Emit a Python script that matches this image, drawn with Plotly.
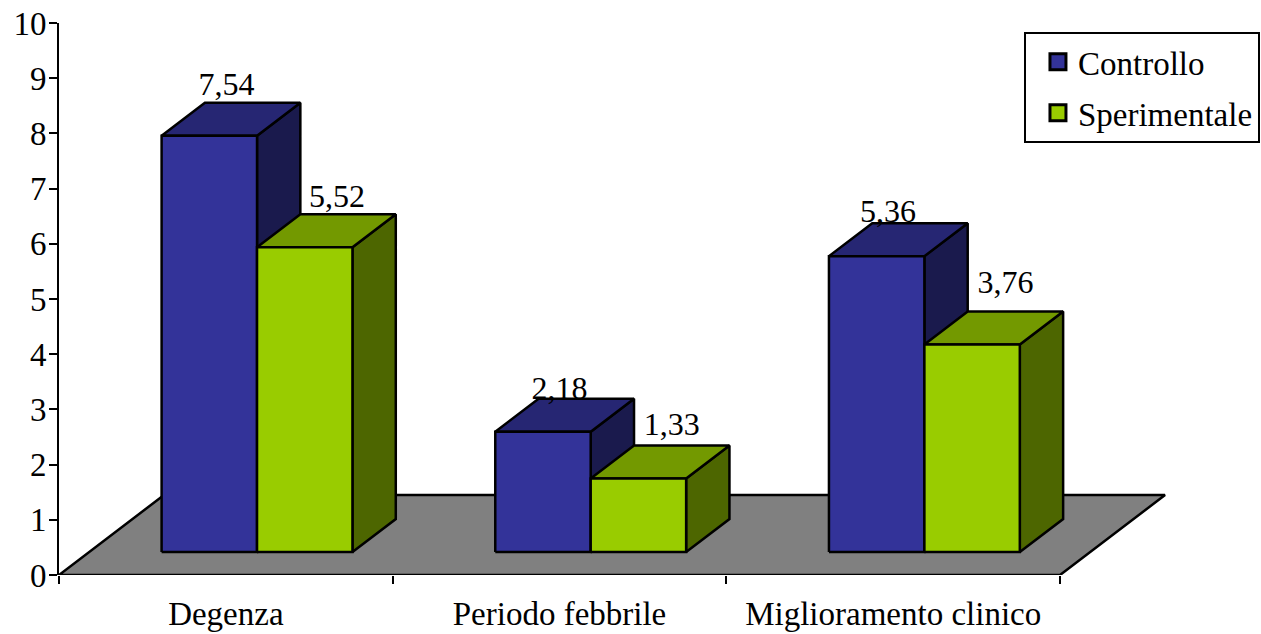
import plotly.graph_objects as go

CATEGORIES = ["Degenza", "Periodo febbrile", "Miglioramento clinico"]
CONTROLLO = [7.54, 2.18, 5.36]
SPERIMENTALE = [5.52, 1.33, 3.76]
Y_TICKS = list(range(0, 11))

# label nudges from the back-top centre of each bar, in axis units
LABEL_DX = {"Controllo": [-0.078, -0.08, -0.096], "Sperimentale": [-0.033, -0.03, -0.03]}
LABEL_DY = {"Controllo": [0.285, 0.145, 0.165], "Sperimentale": [0.27, 0.33, 0.48]}

COL = {
    "Controllo": dict(front="#333399", top="#262673", side="#1A1A4D"),
    "Sperimentale": dict(front="#99CC00", top="#739900", side="#4D6600"),
}
FONT = "Liberation Serif"
FS = 33
FS_LABEL = 32
LW = 2.5

# oblique projection
FLOOR_DX = 0.3147   # category units for full floor depth
FLOOR_DY = 1.449    # value units for full floor depth
D_FRONT = 0.2875
D_BACK = 0.70
BAR_W = 0.286
X_NUDGE = 0.003


def P(x, y, d):
    return x + FLOOR_DX * d, y + FLOOR_DY * d


def poly(pts, color, name=None):
    xs = [p[0] for p in pts] + [pts[0][0]]
    ys = [p[1] for p in pts] + [pts[0][1]]
    return go.Scatter(
        x=xs, y=ys, mode="lines", fill="toself", fillcolor=color,
        line=dict(color="black", width=LW), showlegend=False,
        hoverinfo="skip", cliponaxis=False, name=name,
    )


fig = go.Figure()
n = len(CATEGORIES)

fig.add_trace(poly([P(0, 0, 0), P(n, 0, 0), P(n, 0, 1), P(0, 0, 1)], "#808080", "Pavimento"))

label_x, label_y, label_t = [], [], []
for name, vals, off in (("Controllo", CONTROLLO, -1), ("Sperimentale", SPERIMENTALE, 0)):
    c = COL[name]
    for i, v in enumerate(vals):
        x0 = i + 0.5 + X_NUDGE + off * BAR_W
        x1 = x0 + BAR_W
        fig.add_trace(poly([P(x1, 0, D_FRONT), P(x1, 0, D_BACK), P(x1, v, D_BACK), P(x1, v, D_FRONT)], c["side"]))
        fig.add_trace(poly([P(x0, v, D_FRONT), P(x1, v, D_FRONT), P(x1, v, D_BACK), P(x0, v, D_BACK)], c["top"]))
        fig.add_trace(poly([P(x0, 0, D_FRONT), P(x1, 0, D_FRONT), P(x1, v, D_FRONT), P(x0, v, D_FRONT)], c["front"]))
        bx, by = P((x0 + x1) / 2, v, D_BACK)
        label_x.append(bx + LABEL_DX[name][i])
        label_y.append(by + LABEL_DY[name][i])
        label_t.append(f"{v:.2f}".replace(".", ","))

fig.add_trace(go.Scatter(
    x=label_x, y=label_y, text=label_t, mode="text", textposition="middle center",
    textfont=dict(family=FONT, size=FS_LABEL, color="black"),
    showlegend=False, hoverinfo="skip", cliponaxis=False,
))

for name in ("Controllo", "Sperimentale"):
    fig.add_trace(go.Scatter(
        x=[None], y=[None], mode="markers", name=name, legendgroup=name,
        marker=dict(symbol="square", size=16, color=COL[name]["front"],
                    line=dict(color="black", width=3)),
    ))

fig.update_layout(
    width=1261, height=634,
    margin=dict(l=59, r=0, t=23, b=59, autoexpand=False),
    paper_bgcolor="white", plot_bgcolor="white",
    font=dict(family=FONT, size=FS, color="black"),
    showlegend=True,
    legend=dict(
        x=0.8028, y=0.984, xanchor="left", yanchor="top",
        bordercolor="black", borderwidth=2, bgcolor="white",
        font=dict(family=FONT, size=FS, color="black"),
        itemwidth=30, indentation=12, tracegroupgap=5,
        entrywidth=215, entrywidthmode="pixels",
    ),
    xaxis=dict(
        range=[0, 3.6023], showgrid=False, zeroline=False, showline=False,
        tickmode="array", tickvals=[i + 0.5 for i in range(n)], ticktext=CATEGORIES,
        ticks="outside", ticklen=0, tickwidth=0, ticklabelstandoff=9,
        minor=dict(tick0=0, dtick=1, ticks="outside", ticklen=8, tickwidth=2, tickcolor="black"),
        tickfont=dict(family=FONT, size=FS, color="black"),
    ),
    yaxis=dict(
        range=[0, 10], showgrid=False, zeroline=False, showline=True,
        linecolor="black", linewidth=2,
        tickmode="array", tickvals=Y_TICKS, ticks="outside", ticklen=8, tickwidth=2,
        ticklabelstandoff=-4,
        tickcolor="black", tickfont=dict(family=FONT, size=FS, color="black"),
    ),
)

fig.write_html("out.html", config=dict(displayModeBar=False),
               post_script="document.body.style.margin='0';document.body.style.overflow='hidden';")
